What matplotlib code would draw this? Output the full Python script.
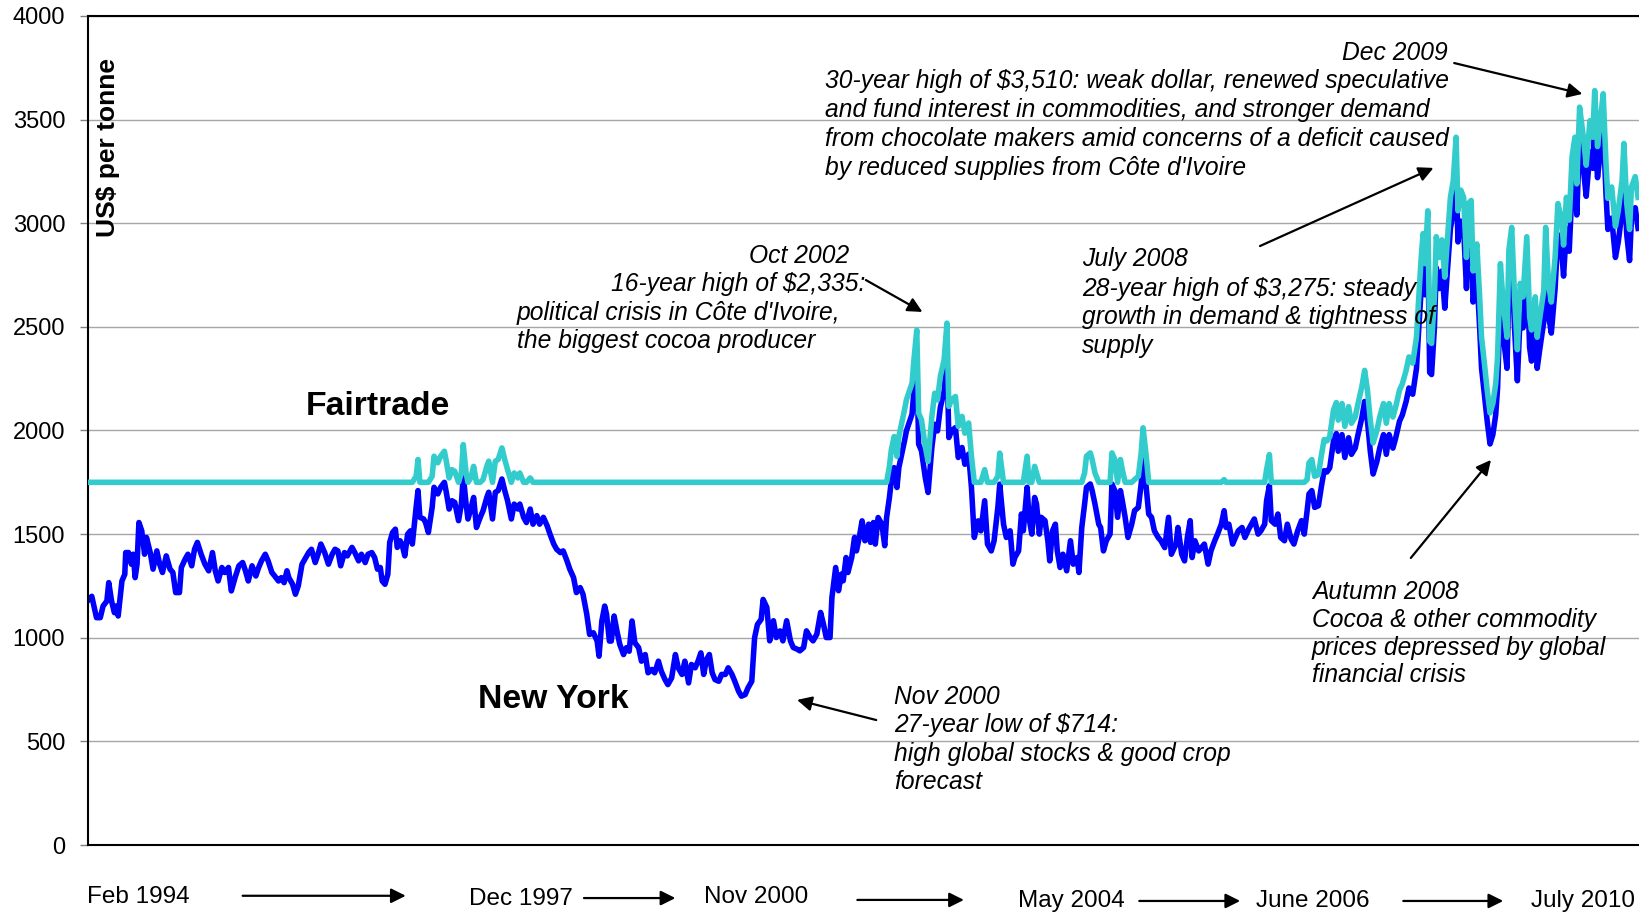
import numpy as np
import matplotlib
matplotlib.use("Agg")
import matplotlib.pyplot as plt

plt.rcParams['font.family'] = ['Liberation Sans', 'DejaVu Sans']

# New York cocoa futures, US$ per tonne
ny_year = [
    1994.10, 1994.14, 1994.19, 1994.23, 1994.26, 1994.30, 1994.32, 1994.35, 1994.38, 1994.40,
    1994.42, 1994.46, 1994.49, 1994.50, 1994.53, 1994.56, 1994.58, 1994.60, 1994.62, 1994.64,
    1994.67, 1994.70, 1994.72, 1994.76, 1994.79, 1994.83, 1994.86, 1994.89, 1994.93, 1994.97,
    1995.00, 1995.03, 1995.07, 1995.09, 1995.13, 1995.16, 1995.20, 1995.23, 1995.26, 1995.30,
    1995.34, 1995.38, 1995.42, 1995.45, 1995.48, 1995.52, 1995.55, 1995.59, 1995.62, 1995.66,
    1995.70, 1995.74, 1995.77, 1995.80, 1995.84, 1995.88, 1995.91, 1995.94, 1995.98, 1996.01,
    1996.05, 1996.08, 1996.12, 1996.15, 1996.18, 1996.21, 1996.23, 1996.27, 1996.30, 1996.33,
    1996.37, 1996.40, 1996.44, 1996.47, 1996.51, 1996.54, 1996.57, 1996.61, 1996.65, 1996.69,
    1996.72, 1996.75, 1996.78, 1996.82, 1996.85, 1996.90, 1996.93, 1996.97, 1997.00, 1997.04,
    1997.07, 1997.11, 1997.14, 1997.17, 1997.20, 1997.22, 1997.25, 1997.28, 1997.30, 1997.33,
    1997.36, 1997.38, 1997.41, 1997.43, 1997.46, 1997.49, 1997.52, 1997.54, 1997.58, 1997.60,
    1997.62, 1997.66, 1997.68, 1997.71, 1997.75, 1997.77, 1997.81, 1997.84, 1997.88, 1997.90,
    1997.93, 1997.96, 1997.99, 1998.03, 1998.06, 1998.08, 1998.11, 1998.13, 1998.16, 1998.19,
    1998.22, 1998.26, 1998.29, 1998.33, 1998.35, 1998.39, 1998.42, 1998.45, 1998.49, 1998.52,
    1998.55, 1998.59, 1998.62, 1998.66, 1998.68, 1998.72, 1998.75, 1998.79, 1998.82, 1998.86,
    1998.89, 1998.93, 1998.97, 1999.00, 1999.04, 1999.07, 1999.11, 1999.14, 1999.18, 1999.21,
    1999.25, 1999.28, 1999.32, 1999.35, 1999.39, 1999.42, 1999.46, 1999.50, 1999.52, 1999.55,
    1999.58, 1999.60, 1999.63, 1999.65, 1999.68, 1999.71, 1999.74, 1999.78, 1999.81, 1999.84,
    1999.87, 1999.90, 1999.94, 1999.97, 2000.01, 2000.04, 2000.08, 2000.11, 2000.15, 2000.18,
    2000.22, 2000.25, 2000.29, 2000.33, 2000.36, 2000.40, 2000.43, 2000.47, 2000.50, 2000.54,
    2000.57, 2000.60, 2000.63, 2000.66, 2000.69, 2000.72, 2000.75, 2000.79, 2000.82, 2000.86,
    2000.89, 2000.93, 2000.96, 2001.00, 2001.03, 2001.07, 2001.10, 2001.14, 2001.17, 2001.20,
    2001.24, 2001.26, 2001.30, 2001.33, 2001.37, 2001.40, 2001.44, 2001.47, 2001.51, 2001.55,
    2001.58, 2001.62, 2001.65, 2001.69, 2001.72, 2001.76, 2001.79, 2001.83, 2001.87, 2001.90,
    2001.93, 2001.97, 2001.99, 2002.03, 2002.06, 2002.09, 2002.11, 2002.14, 2002.16, 2002.20,
    2002.23, 2002.25, 2002.28, 2002.31, 2002.34, 2002.38, 2002.40, 2002.43, 2002.45, 2002.48,
    2002.52, 2002.55, 2002.57, 2002.60, 2002.62, 2002.65, 2002.68, 2002.70, 2002.73, 2002.76,
    2002.78, 2002.81, 2002.84, 2002.86, 2002.89, 2002.91, 2002.94, 2002.98, 2003.01, 2003.05,
    2003.08, 2003.11, 2003.14, 2003.18, 2003.21, 2003.23, 2003.26, 2003.30, 2003.33, 2003.37,
    2003.40, 2003.44, 2003.47, 2003.50, 2003.54, 2003.57, 2003.61, 2003.64, 2003.68, 2003.71,
    2003.75, 2003.77, 2003.81, 2003.84, 2003.88, 2003.91, 2003.93, 2003.97, 2004.00, 2004.02,
    2004.06, 2004.08, 2004.11, 2004.14, 2004.16, 2004.19, 2004.21, 2004.25, 2004.28, 2004.30,
    2004.33, 2004.36, 2004.38, 2004.41, 2004.44, 2004.48, 2004.52, 2004.55, 2004.59, 2004.61,
    2004.64, 2004.67, 2004.69, 2004.73, 2004.75, 2004.78, 2004.82, 2004.84, 2004.87, 2004.90,
    2004.94, 2004.96, 2004.99, 2005.02, 2005.05, 2005.07, 2005.10, 2005.13, 2005.17, 2005.20,
    2005.24, 2005.27, 2005.29, 2005.32, 2005.35, 2005.38, 2005.41, 2005.45, 2005.48, 2005.52,
    2005.56, 2005.59, 2005.64, 2005.66, 2005.70, 2005.73, 2005.76, 2005.79, 2005.81, 2005.84,
    2005.88, 2005.91, 2005.94, 2005.98, 2006.01, 2006.05, 2006.08, 2006.12, 2006.15, 2006.17,
    2006.20, 2006.24, 2006.27, 2006.30, 2006.34, 2006.37, 2006.41, 2006.44, 2006.47, 2006.51,
    2006.54, 2006.58, 2006.60, 2006.63, 2006.65, 2006.69, 2006.72, 2006.75, 2006.79, 2006.82,
    2006.86, 2006.89, 2006.93, 2006.97, 2007.00, 2007.03, 2007.05, 2007.08, 2007.11, 2007.15,
    2007.18, 2007.21, 2007.24, 2007.27, 2007.31, 2007.34, 2007.36, 2007.40, 2007.43, 2007.47,
    2007.50, 2007.54, 2007.57, 2007.61, 2007.64, 2007.67, 2007.70, 2007.73, 2007.77, 2007.80,
    2007.84, 2007.87, 2007.90, 2007.94, 2007.97, 2008.01, 2008.04, 2008.08, 2008.11, 2008.15,
    2008.19, 2008.21, 2008.24, 2008.26, 2008.28, 2008.31, 2008.33, 2008.35, 2008.38, 2008.40,
    2008.43, 2008.46, 2008.49, 2008.52, 2008.55, 2008.58, 2008.61, 2008.63, 2008.66, 2008.69,
    2008.72, 2008.74, 2008.77, 2008.79, 2008.83, 2008.86, 2008.88, 2008.91, 2008.94, 2008.97,
    2009.00, 2009.03, 2009.05, 2009.08, 2009.11, 2009.15, 2009.17, 2009.20, 2009.23, 2009.26,
    2009.29, 2009.32, 2009.36, 2009.39, 2009.41, 2009.45, 2009.47, 2009.50, 2009.54, 2009.56,
    2009.59, 2009.62, 2009.66, 2009.69, 2009.73, 2009.75, 2009.78, 2009.81, 2009.84, 2009.87,
    2009.89, 2009.92, 2009.96, 2009.99, 2010.03, 2010.06, 2010.08, 2010.11, 2010.14, 2010.17,
    2010.20, 2010.22, 2010.26, 2010.30, 2010.33, 2010.37, 2010.39, 2010.42, 2010.45, 2010.47,
    2010.51, 2010.54,
]
ny_price = [
    1180, 1200, 1097, 1097, 1153, 1177, 1266, 1177, 1121, 1153,
    1105, 1274, 1306, 1411, 1411, 1355, 1403, 1290, 1355, 1556,
    1516, 1403, 1484, 1411, 1331, 1419, 1355, 1315, 1395, 1331,
    1315, 1218, 1218, 1339, 1379, 1403, 1347, 1427, 1460, 1403,
    1355, 1323, 1411, 1323, 1274, 1339, 1315, 1339, 1226, 1290,
    1347, 1363, 1323, 1274, 1347, 1298, 1339, 1371, 1403, 1371,
    1315, 1298, 1274, 1290, 1266, 1323, 1290, 1258, 1210, 1250,
    1355, 1379, 1411, 1427, 1363, 1403, 1452, 1411, 1355, 1403,
    1427, 1419, 1347, 1411, 1395, 1436, 1411, 1371, 1403, 1363,
    1403, 1411, 1387, 1331, 1339, 1274, 1258, 1306, 1460, 1508,
    1524, 1436, 1468, 1452, 1395, 1500, 1516, 1452, 1629, 1710,
    1581, 1573, 1556, 1508, 1629, 1726, 1694, 1726, 1750, 1702,
    1621, 1661, 1653, 1565, 1645, 1782, 1645, 1573, 1621, 1677,
    1532, 1581, 1613, 1677, 1702, 1573, 1702, 1710, 1766, 1710,
    1661, 1573, 1645, 1621, 1645, 1581, 1556, 1621, 1548, 1589,
    1548, 1581, 1540, 1500, 1452, 1427, 1411, 1419, 1371, 1331,
    1290, 1218, 1242, 1210, 1113, 1016, 1024, 984, 911, 1081,
    1153, 1113, 984, 984, 1105, 1032, 968, 919, 952, 935,
    1081, 976, 952, 887, 919, 831, 847, 831, 887, 839,
    798, 774, 806, 919, 855, 823, 887, 782, 871, 855,
    887, 927, 823, 895, 919, 831, 798, 790, 823, 823,
    855, 823, 790, 742, 718, 726, 758, 790, 1000, 1064,
    1089, 1185, 1146, 985, 1082, 1001, 1033, 985, 1082, 985,
    953, 945, 937, 953, 1033, 1001, 985, 1017, 1122, 1066,
    1001, 1001, 1194, 1339, 1227, 1307, 1275, 1387, 1315, 1387,
    1484, 1419, 1484, 1564, 1468, 1548, 1460, 1556, 1452, 1580,
    1548, 1444, 1580, 1677, 1757, 1821, 1725, 1821, 1886, 1950,
    1998, 2039, 2079, 2191, 2335, 1934, 1902, 1773, 1701, 1918,
    2030, 1998, 2111, 2191, 2368, 1966, 1998, 2014, 1870, 1918,
    1837, 1886, 1725, 1484, 1564, 1516, 1661, 1452, 1419, 1468,
    1629, 1741, 1548, 1484, 1516, 1355, 1387, 1419, 1597, 1516,
    1726, 1581, 1500, 1677, 1645, 1500, 1581, 1565, 1468, 1371,
    1516, 1548, 1419, 1339, 1403, 1323, 1468, 1355, 1387, 1315,
    1532, 1645, 1726, 1742, 1710, 1645, 1548, 1532, 1419, 1468,
    1500, 1742, 1710, 1581, 1710, 1661, 1581, 1484, 1548, 1613,
    1629, 1742, 1863, 1742, 1597, 1581, 1516, 1484, 1468, 1435,
    1581, 1403, 1452, 1532, 1403, 1371, 1484, 1565, 1387, 1468,
    1419, 1435, 1452, 1355, 1419, 1468, 1500, 1548, 1613, 1532,
    1548, 1452, 1484, 1516, 1532, 1484, 1524, 1548, 1573, 1500,
    1516, 1548, 1661, 1734, 1565, 1548, 1597, 1484, 1468, 1548,
    1476, 1452, 1516, 1565, 1500, 1613, 1694, 1710, 1629, 1637,
    1726, 1806, 1800, 1820, 1950, 1985, 1900, 1980, 1870, 1965,
    1885, 1915, 1980, 2060, 2140, 2045, 1900, 1790, 1850, 1915,
    1980, 1885, 1980, 1915, 1965, 2045, 2075, 2140, 2205, 2175,
    2300, 2460, 2685, 2800, 2655, 2910, 2280, 2270, 2495, 2785,
    2685, 2770, 2590, 2785, 2975, 3055, 3265, 2910, 3010, 2975,
    2685, 2945, 2960, 2620, 2750, 2495, 2300, 2175, 2045, 1935,
    1980, 2075, 2205, 2655, 2460, 2300, 2720, 2830, 2495, 2240,
    2560, 2495, 2785, 2400, 2335, 2495, 2300, 2400, 2525, 2830,
    2560, 2470, 2685, 2945, 2865, 2745, 2975, 2865, 3170, 3265,
    3040, 3410, 3265, 3130, 3345, 3265, 3490, 3220, 3345, 3475,
    3140, 2970, 3025, 2835, 2910, 3055, 3235, 2945, 2820, 3025,
    3075, 2975,
]

# Fairtrade minimum price and social premium
ft_floor = 1600
ft_premium = 150

y_ticks = [0, 500, 1000, 1500, 2000, 2500, 3000, 3500, 4000]

period_labels = ["Feb 1994", "Dec 1997", "Nov 2000", "May 2004", "June 2006", "July 2010"]
period_label_x = [1994.09, 1998.14, 2000.63, 2003.96, 2006.49, 2009.40]
period_label_y = [-251, -261, -251, -270, -270, -270]
period_arrows = [(1995.74, 1997.47, -245), (1999.36, 2000.33, -256),
                 (2002.26, 2003.39, -265), (2005.25, 2006.32, -270),
                 (2008.05, 2009.11, -270)]

ny = np.array(ny_price, dtype=float)
fairtrade = np.maximum(ny, ft_floor) + ft_premium

fig = plt.figure(figsize=(16.39, 9.16), dpi=100)
ax = fig.add_axes([88 / 1639, 1 - 845 / 916, 1 - 88 / 1639, 829 / 916])

ax.plot(ny_year, ny, color='#0000FF', lw=4, solid_joinstyle='round', zorder=2)
ax.plot(ny_year, fairtrade, color='#33CCCC', lw=4, solid_joinstyle='round', zorder=3)

ax.set_xlim(1994.10, 2010.55)
ax.set_ylim(0, 4000)
ax.set_yticks(y_ticks)
ax.set_xticks([])
ax.tick_params(axis='y', direction='out', length=5.5, width=1, color='#808080',
               labelsize=17, pad=11)
ax.yaxis.grid(True, color='#A6A6A6', lw=1.0)
ax.set_axisbelow(True)
for s in ['left', 'top', 'bottom']:
    ax.spines[s].set_linewidth(1.5)
ax.spines['right'].set_visible(False)

fig.text(108 / 1639, 1 - 58 / 916, "US$ per tonne", rotation=90, ha='center', va='top',
         fontsize=19, fontweight='bold')

ax.text(1997.17, 2118, "Fairtrade", ha='center', va='center', fontsize=24.3, fontweight='bold')
ax.text(1999.04, 700, "New York", ha='center', va='center', fontsize=24.3, fontweight='bold')

it = dict(fontsize=17.7, style='italic', va='baseline')
arrow = dict(arrowstyle='-|>', color='black', lw=1.6, mutation_scale=22, shrinkA=0, shrinkB=0)

# Dec 2009
ax.text(2008.52, 3788, "Dec 2009", ha='right', **it)
ax.annotate("", xy=(2009.95, 3624), xytext=(2008.59, 3773), arrowprops=arrow)
for txt, yv in zip(["30-year high of $3,510: weak dollar, renewed speculative",
                    "and fund interest in commodities, and stronger demand",
                    "from chocolate makers amid concerns of a deficit caused",
                    "by reduced supplies from Côte d'Ivoire"],
                   [3653, 3513, 3373, 3233]):
    ax.text(2001.92, yv, txt, ha='left', **it)

# July 2008
for txt, yv in zip(["July 2008", "28-year high of $3,275: steady",
                    "growth in demand & tightness of", "supply"],
                   [2794, 2651, 2514, 2374]):
    ax.text(2004.64, yv, txt, ha='left', **it)
ax.annotate("", xy=(2008.37, 3267), xytext=(2006.53, 2890), arrowprops=arrow)

# Oct 2002
ax.text(2002.17, 2808, "Oct 2002", ha='right', **it)
ax.text(2002.35, 2673, "16-year high of $2,335:", ha='right', **it)
ax.text(1998.65, 2533, "political crisis in Côte d'Ivoire,", ha='left', **it)
ax.text(1998.65, 2398, "the biggest cocoa producer", ha='left', **it)
ax.annotate("", xy=(2002.95, 2572), xytext=(2002.35, 2726), arrowprops=arrow)

# Nov 2000
for txt, yv in zip(["Nov 2000", "27-year low of $714:",
                    "high global stocks & good crop", "forecast"],
                   [680, 545, 405, 270]):
    ax.text(2002.65, yv, txt, ha='left', **it)
ax.annotate("", xy=(2001.62, 700), xytext=(2002.46, 603), arrowprops=arrow)

# Autumn 2008
for txt, yv in zip(["Autumn 2008", "Cocoa & other commodity",
                    "prices depressed by global", "financial crisis"],
                   [1187, 1052, 917, 786]):
    ax.text(2007.08, yv, txt, ha='left', **it)
ax.annotate("", xy=(2008.98, 1858), xytext=(2008.13, 1385), arrowprops=arrow)

# period labels under the axis
for lab, xv, yv in zip(period_labels, period_label_x, period_label_y):
    ax.text(xv, yv, lab, ha='left', va='center', fontsize=17.5, clip_on=False)
for x0, x1, yv in period_arrows:
    ax.annotate("", xy=(x1, yv), xytext=(x0, yv), arrowprops=arrow, annotation_clip=False)

fig.savefig("out.png", dpi=100)
